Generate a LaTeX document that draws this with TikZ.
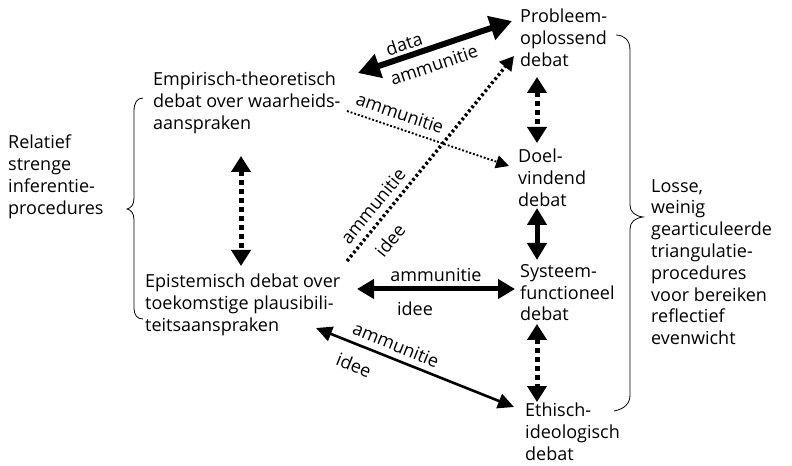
\documentclass[tikz,border=0pt]{standalone}
\usepackage{fontspec}
\setmainfont{Open Sans}
\usetikzlibrary{arrows.meta}
\begin{document}
\begin{tikzpicture}[x=1bp,y=-1bp,
  txt/.style={anchor=north west,inner sep=0pt,align=left,font=\fontsize{18bp}{21.8bp}\selectfont},
  lbl/.style={inner sep=0pt,font=\fontsize{18bp}{18bp}\selectfont},
  huge/.style={line width=6bp,{Triangle[width=24bp,length=22bp]}-{Triangle[width=24bp,length=22bp]}},
  thickarr/.style={line width=5bp,{Triangle[width=19bp,length=17bp]}-{Triangle[width=19bp,length=17bp]}},
  dasharr/.style={line width=5bp,dash pattern=on 5bp off 4bp,{Triangle[width=19bp,length=16bp]}-{Triangle[width=19bp,length=16bp]}},
  medarr/.style={line width=2.6bp,{Triangle[width=15bp,length=16bp]}-{Triangle[width=15bp,length=16bp]}},
  dotarr/.style={line width=3.4bp,dash pattern=on 2.6bp off 2.6bp,-{Triangle[width=15bp,length=14bp]}},
  thindot/.style={line width=1.9bp,dash pattern=on 1.9bp off 1.9bp,-{Triangle[width=13bp,length=13bp]}},
  bracestyle/.style={line width=0.8bp}
]
\useasboundingbox (0,0) rectangle (792,466);

% nodes
\node[txt] (prob) at (520,9) {Probleem-\\oplossend\\debat};
\node[txt] (emp) at (153,72) {Empirisch-theoretisch\\debat over waarheids-\\aanspraken};
\node[txt] (doel) at (518,149) {Doel-\\vindend\\debat};
\node[txt] (epi) at (145,274) {Epistemisch debat over\\toekomstige plausibili-\\teitsaanspraken};
\node[txt] (sys) at (520,264) {Systeem-\\functioneel\\debat};
\node[txt] (eth) at (525,403) {Ethisch-\\ideologisch\\debat};
\node[txt] (rel) at (8,135) {Relatief\\strenge\\inferentie-\\procedures};
\node[txt] (los) at (651,179) {Losse,\\weinig\\gearticuleerde\\triangulatie-\\procedures\\voor bereiken\\reflectief\\evenwicht};

% connector end points
\coordinate (a1) at (358,73);
\coordinate (a2) at (512,21);
\coordinate (b1) at (347,111);
\coordinate (b2) at (509,166);
\coordinate (c1) at (347,261);
\coordinate (c2) at (514,56);
\coordinate (d1) at (241,156);
\coordinate (d2) at (241,266);
\coordinate (e1) at (537,77);
\coordinate (e2) at (537,143);
\coordinate (f1) at (537,208);
\coordinate (f2) at (537,260);
\coordinate (g1) at (537,324);
\coordinate (g2) at (537,402);
\coordinate (h1) at (357,289);
\coordinate (h2) at (515,289);
\coordinate (i1) at (316,328);
\coordinate (i2) at (514,407);

% connectors
\draw[huge] (a1) -- (a2);
\draw[thindot] (b1) -- (b2);
\draw[dotarr] (c1) -- (c2);
\draw[dasharr] (d1) -- (d2);
\draw[dasharr] (e1) -- (e2);
\draw[thickarr] (f1) -- (f2);
\draw[dasharr] (g1) -- (g2);
\draw[thickarr] (h1) -- (h2);
\draw[medarr] (i1) -- (i2);

% labels
\node[lbl,rotate=18.5] (l1) at (404,44) {data};
\node[lbl,rotate=18.5] (l2) at (434,65) {ammunitie};
\node[lbl,rotate=-19] (l3) at (400,113) {ammunitie};
\node[lbl,rotate=51] (l4) at (373,206) {ammunitie};
\node[lbl,rotate=51] (l5) at (390,240) {idee};
\node[lbl] (l6) at (436,275) {ammunitie};
\node[lbl] (l7) at (415,309) {idee};
\node[lbl,rotate=-22] (l8) at (396,345) {ammunitie};
\node[lbl,rotate=-22] (l9) at (354,365) {idee};

% braces
\draw[bracestyle] (143,98) .. controls (137,98) and (134,103) .. (134,111)
  -- (134,198) .. controls (134,205) and (131,208) .. (127,209)
  .. controls (131,210) and (134,213) .. (134,220)
  -- (134,308) .. controls (134,315) and (137,319) .. (143,319);
\draw[bracestyle] (616,35) .. controls (624,35) and (630,40) .. (630,50)
  -- (630,205) .. controls (630,212) and (635,216) .. (643,217)
  .. controls (635,218) and (630,222) .. (630,229)
  -- (630,395) .. controls (630,404) and (624,409) .. (614,411);
\end{tikzpicture}
\end{document}
